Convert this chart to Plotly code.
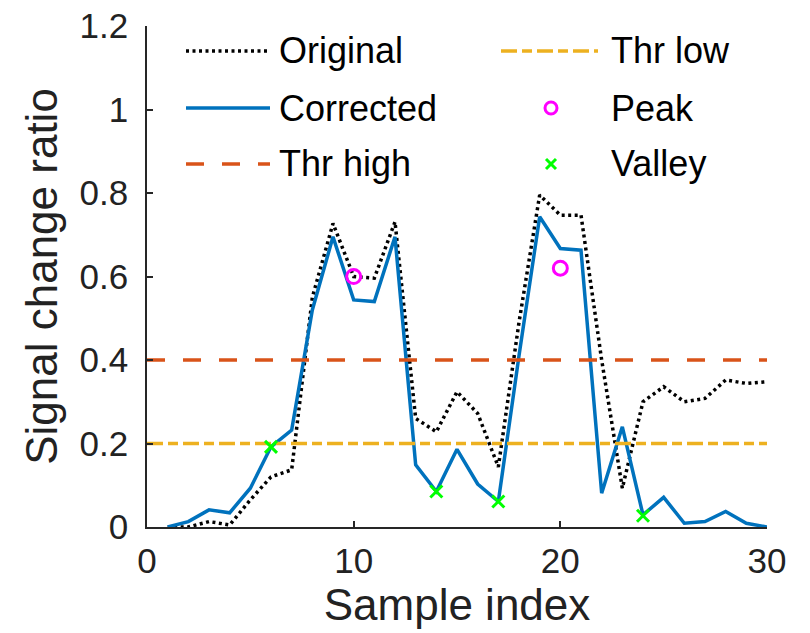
import plotly.graph_objects as go

# ---- data ----
sample_idx = list(range(1, 31))
original = [0.0, 0.0, 0.013, 0.005, 0.065, 0.12, 0.137, 0.55, 0.727, 0.60,
            0.596, 0.731, 0.26, 0.228, 0.324, 0.272, 0.144, 0.49, 0.795, 0.747,
            0.747, 0.40, 0.093, 0.30, 0.336, 0.30, 0.308, 0.352, 0.344, 0.348]
corrected = [0.0, 0.013, 0.041, 0.034, 0.093, 0.192, 0.232, 0.52, 0.695, 0.544,
             0.54, 0.695, 0.149, 0.085, 0.186, 0.103, 0.061, 0.41, 0.743, 0.667,
             0.663, 0.081, 0.24, 0.029, 0.071, 0.009, 0.013, 0.037, 0.009, 0.0]
thr_high = 0.4
thr_low = 0.2
thr_x = [0, 30]
peak_x = [10, 20]
peak_y = [0.60, 0.62]
valley_x = [6, 14, 17, 24]
valley_y = [0.192, 0.085, 0.061, 0.027]
x_ticks = [0, 10, 20, 30]
y_ticks = [0, 0.2, 0.4, 0.6, 0.8, 1.0, 1.2]
y_ticktext = ["0", "0.2", "0.4", "0.6", "0.8", "1", "1.2"]

C_ORIG = "black"
C_CORR = "#0072BD"
C_HIGH = "#D95319"
C_LOW = "#EDB120"
C_PEAK = "#FF00FF"
C_VALL = "#00FF00"
DOT = "3px,3.5px"
DASH = "18px,18px"
DASHDOT = "16px,5px,10px,5px"
FONT = "Liberation Sans, Arial, Helvetica, sans-serif"
LW = 3.5

fig = go.Figure()
fig.add_trace(go.Scatter(x=sample_idx, y=original, mode="lines", name="Original",
                         line=dict(color=C_ORIG, width=LW, dash=DOT)))
fig.add_trace(go.Scatter(x=sample_idx, y=corrected, mode="lines", name="Corrected",
                         line=dict(color=C_CORR, width=LW)))
fig.add_trace(go.Scatter(x=thr_x, y=[thr_high] * 2, mode="lines", name="Thr high",
                         line=dict(color=C_HIGH, width=LW, dash=DASH)))
fig.add_trace(go.Scatter(x=thr_x, y=[thr_low] * 2, mode="lines", name="Thr low",
                         line=dict(color=C_LOW, width=LW, dash=DASHDOT)))
fig.add_trace(go.Scatter(x=peak_x, y=peak_y, mode="markers", name="Peak",
                         marker=dict(symbol="circle-open", size=14, color=C_PEAK,
                                     line=dict(width=3, color=C_PEAK))))
fig.add_trace(go.Scatter(x=valley_x, y=valley_y, mode="markers", name="Valley",
                         marker=dict(symbol="x-thin-open", size=12, color=C_VALL,
                                     line=dict(width=3, color=C_VALL))))

# ---- manual legend (paper coordinates) ----
L, R, T, B = 147, 43, 26, 106
W, H = 810, 633
pw, ph = W - L - R, H - T - B
def px(x):
    return (x - L) / pw
def py(y):
    return (H - B - y) / ph

rows = [51, 108, 164]
shapes = []
annots = []
col1 = [("Original", C_ORIG, DOT), ("Corrected", C_CORR, "solid"), ("Thr high", C_HIGH, DASH)]
for (name, col, dash), ry in zip(col1, rows):
    shapes.append(dict(type="line", xref="paper", yref="paper", x0=px(186), x1=px(270),
                       y0=py(ry), y1=py(ry), line=dict(color=col, width=LW, dash=dash)))
    annots.append(dict(text=name, xref="paper", yref="paper", x=px(277), y=py(ry),
                       xanchor="left", yanchor="middle", showarrow=False,
                       font=dict(size=36, color="black", family=FONT)))
# col 2
shapes.append(dict(type="line", xref="paper", yref="paper", x0=px(501), x1=px(598),
                   y0=py(rows[0]), y1=py(rows[0]), line=dict(color=C_LOW, width=LW, dash=DASHDOT)))
shapes.append(dict(type="circle", xref="paper", yref="paper", xsizemode="pixel", ysizemode="pixel",
                   xanchor=px(551), yanchor=py(rows[1]), x0=-6, x1=6, y0=-6, y1=6,
                   line=dict(color=C_PEAK, width=3)))
for sgn in (1, -1):
    shapes.append(dict(type="line", xref="paper", yref="paper", xsizemode="pixel", ysizemode="pixel",
                       xanchor=px(551), yanchor=py(rows[2]), x0=-5, x1=5, y0=-5 * sgn, y1=5 * sgn,
                       line=dict(color=C_VALL, width=3)))
for name, ry in zip(["Thr low", "Peak", "Valley"], rows):
    annots.append(dict(text=name, xref="paper", yref="paper", x=px(609), y=py(ry),
                       xanchor="left", yanchor="middle", showarrow=False,
                       font=dict(size=36, color="black", family=FONT)))

fig.update_layout(
    width=W, height=H,
    margin=dict(l=L, r=R, t=T, b=B),
    paper_bgcolor="white", plot_bgcolor="white",
    showlegend=False,
    font=dict(family=FONT, size=35, color="#222222"),
    shapes=shapes, annotations=annots,
    xaxis=dict(range=[0, 30], tickvals=x_ticks, ticks="inside", ticklen=6, tickwidth=1.5,
               tickcolor="#262626", showline=True, linecolor="#262626", linewidth=1.5,
               showgrid=False, zeroline=False, ticklabelstandoff=2, automargin=False,
               title=dict(text="Sample index", font=dict(size=44, color="#222222"), standoff=2)),
    yaxis=dict(range=[0, 1.2], tickvals=y_ticks, ticktext=y_ticktext, ticks="inside",
               ticklen=6, tickwidth=1.5, tickcolor="#262626", showline=True,
               linecolor="#262626", linewidth=1.5, showgrid=False, zeroline=False,
               ticklabelstandoff=10, automargin=False,
               title=dict(text="Signal change ratio", font=dict(size=44, color="#222222"), standoff=8)),
)

fig.write_html("out.html")
